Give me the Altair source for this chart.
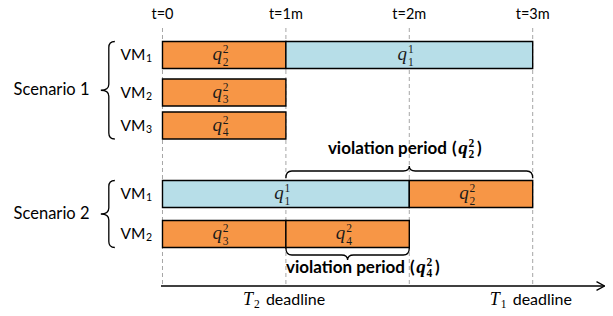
import altair as alt
import pandas as pd

# ---------------- chart values ----------------
time_ticks = [0, 1, 2, 3]
time_tick_labels = ["t=0", "t=1m", "t=2m", "t=3m"]

scenario_names = ["Scenario 1", "Scenario 2"]

task_scenario = ["Scenario 1", "Scenario 1", "Scenario 1", "Scenario 1",
                 "Scenario 2", "Scenario 2", "Scenario 2", "Scenario 2"]
task_vm = [1, 1, 2, 3, 1, 1, 2, 2]
task_index = [2, 1, 3, 4, 1, 2, 3, 4]      # subscript of q
task_class = [2, 1, 2, 2, 1, 2, 2, 2]      # superscript of q
task_start = [0, 1, 0, 0, 0, 2, 0, 1]
task_end = [1, 3, 1, 1, 2, 3, 1, 2]

violation_task_index = [2, 4]
violation_task_class = [2, 2]
violation_start = [1, 1]
violation_end = [3, 2]

deadline_class = [2, 1]
deadline_time = [1, 3]

# ---------------- layout / style ----------------
W, H = 597, 292
PAD_TOP = 8
X_DOMAIN = [-1.252, 3.586]
Y_DOMAIN = [8, 300]
PX_PER_MIN = W / (X_DOMAIN[1] - X_DOMAIN[0])
ROW_Y = {("Scenario 1", 1): 47, ("Scenario 1", 2): 84.5, ("Scenario 1", 3): 117.5,
         ("Scenario 2", 1): 186, ("Scenario 2", 2): 226}
BAR_HALF = 13.5
GRID_TOP, GRID_BOTTOM = 20, 278
TICK_LABEL_Y = 11
BRACE_X = -0.435
VIOL_BRACE_Y = [163, 247]
VIOL_SIDE = [-1, 1]          # -1: tip up (above bars), 1: tip down
VIOL_TEXT_Y = [146, 265]
VIOL_TEXT_ANCHOR = [2.305, 1.965]
DEADLINE_Y = 297

ORANGE = "#F79646"
BLUE = "#B7DEE8"
SANS = "Lato"
SERIF = "Liberation Serif"

xs = alt.Scale(domain=X_DOMAIN, nice=False, zero=False)
ys = alt.Scale(domain=Y_DOMAIN, reverse=True, nice=False, zero=False)


def X(f):
    return alt.X(f, type="quantitative", scale=xs, axis=None)


def X2(f):
    return alt.X2(f)


def Y(f):
    return alt.Y(f, type="quantitative", scale=ys, axis=None)


def vbrace(length, tip=8, end=6, r=6):
    s = 2.0 / length
    t, e, c = tip * s, end * s, r * s
    return (f"M{e:.4f},-1Q0,-1 0,{-1 + c:.4f}L0,{-c:.4f}Q0,0 {-t:.4f},0"
            f"Q0,0 0,{c:.4f}L0,{1 - c:.4f}Q0,1 {e:.4f},1")


def hbrace(length, side, tip=5, end=7, r=6):
    s = 2.0 / length
    t, e, c = tip * s * side, -end * s * side, r * s
    return (f"M-1,{e:.4f}Q-1,0 {-1 + c:.4f},0L{-c:.4f},0Q0,0 0,{t:.4f}"
            f"Q0,0 {c:.4f},0L{1 - c:.4f},0Q1,0 1,{e:.4f}")


# ---------------- tables ----------------
bars = pd.DataFrame({
    "scenario": task_scenario, "vm": task_vm, "idx": task_index,
    "cls": [str(c) for c in task_class], "start": task_start, "end": task_end,
})
bars["yc"] = [ROW_Y[(s, v)] for s, v in zip(bars.scenario, bars.vm)]
bars["y0"] = bars.yc - BAR_HALF
bars["y1"] = bars.yc + BAR_HALF
bars["xm"] = (bars.start + bars.end) / 2
bars["q"] = "q"
bars["sub"] = bars.idx.astype(str)
bars["sup"] = bars.cls

ticks = pd.DataFrame({"t": time_ticks, "label": time_tick_labels,
                      "y0": GRID_TOP, "y1": GRID_BOTTOM, "ly": TICK_LABEL_Y})

vms = bars.drop_duplicates(["scenario", "vm"])[["scenario", "vm", "yc"]].copy()
vms["x"] = 0
vms["name"] = "VM"
vms["num"] = vms.vm.astype(str)

scen_rows = []
for s in scenario_names:
    rows = vms[vms.scenario == s]
    top = rows.yc.min() - BAR_HALF
    bot = rows.yc.max() + BAR_HALF
    scen_rows.append({"name": s, "x": 0, "y": (top + bot) / 2,
                      "bx": BRACE_X, "shape": vbrace(bot - top), "size": (bot - top) ** 2})
scen = pd.DataFrame(scen_rows)

viol = pd.DataFrame({
    "start": violation_start, "end": violation_end,
    "idx": [str(i) for i in violation_task_index],
    "cls": [str(c) for c in violation_task_class],
    "by": VIOL_BRACE_Y, "ty": VIOL_TEXT_Y, "ax": VIOL_TEXT_ANCHOR,
})
viol["bx"] = (viol.start + viol.end) / 2
viol["len"] = (viol.end - viol.start) * PX_PER_MIN
viol["shape"] = [hbrace(l, s) for l, s in zip(viol["len"], VIOL_SIDE)]
viol["size"] = viol["len"] ** 2
viol["txt"] = "violation period"
viol["lp"] = "("
viol["rp"] = ")"
viol["q"] = "q"

dl = pd.DataFrame({"t": deadline_time, "num": [str(c) for c in deadline_class],
                   "y": DEADLINE_Y, "T": "T", "word": "deadline"})

braces = pd.concat([
    scen[["bx", "y", "shape", "size"]].rename(columns={"y": "by"}),
    viol[["bx", "by", "shape", "size"]],
], ignore_index=True)

axis_df = pd.DataFrame({"x0": [-0.012], "x1": [X_DOMAIN[1] - 0.004], "y": [GRID_BOTTOM]})
arrow_df = pd.DataFrame({"x": [X_DOMAIN[1] - 0.004], "y": [GRID_BOTTOM]})

# ---------------- layers ----------------
grid = alt.Chart(ticks).mark_rule(color="#A6A6A6", strokeDash=[4, 3], strokeWidth=1).encode(
    x=X("t"), y=Y("y0"), y2=alt.Y2("y1"))
tick_text = alt.Chart(ticks).mark_text(font=SANS, fontSize=14.5, baseline="alphabetic",
                                       color="black").encode(x=X("t"), y=Y("ly"), text="label")

axis_line = alt.Chart(axis_df).mark_rule(color="black", strokeWidth=1.3).encode(
    x=X("x0"), x2=X2("x1"), y=Y("y"))
arrow = alt.Chart(arrow_df).mark_point(shape="M-1,-0.55L0,0L-1,0.55", size=256, filled=False,
                                       color="black", strokeWidth=1.3, opacity=1).encode(
    x=X("x"), y=Y("y"))

rects = alt.Chart(bars).mark_rect(stroke="black", strokeWidth=1.4).encode(
    x=X("start"), x2=X2("end"), y=Y("y0"), y2=alt.Y2("y1"),
    fill=alt.Fill("cls:N", scale=alt.Scale(domain=["1", "2"], range=[BLUE, ORANGE]), legend=None))
bar_q = alt.Chart(bars).mark_text(font=SERIF, fontStyle="italic", fontSize=19, dx=-7, dy=5,
                                  baseline="alphabetic", color="#1a1a1a").encode(
    x=X("xm"), y=Y("yc"), text="q")
bar_sup = alt.Chart(bars).mark_text(font=SERIF, fontSize=11.5, dx=1.5, dy=-2,
                                    baseline="alphabetic", color="#1a1a1a").encode(
    x=X("xm"), y=Y("yc"), text="sup")
bar_sub = alt.Chart(bars).mark_text(font=SERIF, fontSize=11.5, dx=1.5, dy=10.5,
                                    baseline="alphabetic", color="#1a1a1a").encode(
    x=X("xm"), y=Y("yc"), text="sub")

vm_text = alt.Chart(vms).mark_text(font=SANS, fontSize=15.5, align="right", dx=-17,
                                   baseline="middle", color="black").encode(
    x=X("x"), y=Y("yc"), text="name")
vm_num = alt.Chart(vms).mark_text(font=SANS, fontSize=10.5, align="left", dx=-16.5, dy=4,
                                  baseline="middle", color="black").encode(
    x=X("x"), y=Y("yc"), text="num")

scen_text = alt.Chart(scen).mark_text(font=SANS, fontSize=16.5, align="right", dx=-73,
                                      baseline="middle", color="black").encode(
    x=X("x"), y=Y("y"), text="name")

brace_marks = alt.Chart(braces).mark_point(filled=False, color="black", strokeWidth=1.3,
                                           opacity=1).encode(
    x=X("bx"), y=Y("by"),
    shape=alt.Shape("shape:N", scale=None),
    size=alt.Size("size:Q", scale=None))

v_txt = alt.Chart(viol).mark_text(font=SANS, fontWeight="bold", fontSize=17, align="right",
                                  baseline="alphabetic", color="black").encode(
    x=X("ax"), y=Y("ty"), text="txt")
v_lp = alt.Chart(viol).mark_text(font=SANS, fontWeight="bold", fontSize=17, align="left", dx=5,
                                 baseline="alphabetic", color="black").encode(
    x=X("ax"), y=Y("ty"), text="lp")
v_q = alt.Chart(viol).mark_text(font=SERIF, fontStyle="italic", fontWeight="bold", fontSize=19,
                                dx=16, baseline="alphabetic", color="black").encode(
    x=X("ax"), y=Y("ty"), text="q")
v_sup = alt.Chart(viol).mark_text(font=SERIF, fontWeight="bold", fontSize=11.5, dx=24.5, dy=-7,
                                  baseline="alphabetic", color="black").encode(
    x=X("ax"), y=Y("ty"), text="cls")
v_sub = alt.Chart(viol).mark_text(font=SERIF, fontWeight="bold", fontSize=11.5, dx=24.5, dy=4,
                                  baseline="alphabetic", color="black").encode(
    x=X("ax"), y=Y("ty"), text="idx")
v_rp = alt.Chart(viol).mark_text(font=SANS, fontWeight="bold", fontSize=17, align="left", dx=30,
                                 baseline="alphabetic", color="black").encode(
    x=X("ax"), y=Y("ty"), text="rp")

d_T = alt.Chart(dl).mark_text(font=SERIF, fontStyle="italic", fontSize=18, dx=-38,
                              baseline="alphabetic", color="black").encode(
    x=X("t"), y=Y("y"), text="T")
d_num = alt.Chart(dl).mark_text(font=SERIF, fontSize=11.5, dx=-29, dy=3,
                                baseline="alphabetic", color="black").encode(
    x=X("t"), y=Y("y"), text="num")
d_word = alt.Chart(dl).mark_text(font=SANS, fontSize=16, align="left", dx=-20,
                                 baseline="alphabetic", color="black").encode(
    x=X("t"), y=Y("y"), text="word")

chart = alt.layer(
    grid, tick_text, axis_line, arrow, rects, bar_q, bar_sup, bar_sub,
    vm_text, vm_num, scen_text, brace_marks,
    v_txt, v_lp, v_q, v_sup, v_sub, v_rp, d_T, d_num, d_word,
).properties(
    width=W, height=H,
    padding={"top": PAD_TOP, "left": 0, "right": 0, "bottom": 0},
    autosize=alt.AutoSizeParams(type="none"),
    background="white",
).configure_view(stroke=None)

chart.save("out.html", embed_options={"renderer": "svg", "actions": False})
